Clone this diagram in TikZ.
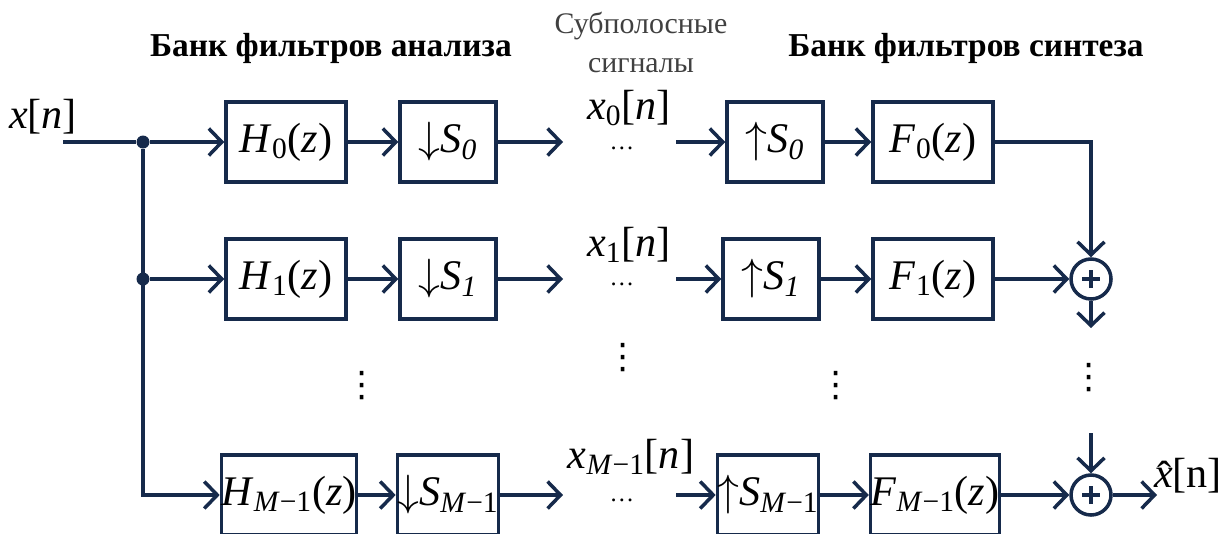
\documentclass[tikz,border=0pt]{standalone}
\usepackage{fontspec}
\setmainfont{Liberation Serif}
\newfontfamily\dejavu{DejaVu Sans}
\usetikzlibrary{arrows.meta}
\definecolor{linecol}{RGB}{22,42,75}
\newcommand{\sbs}[1]{\textsubscript{#1}}
\newcommand{\Mm}{\textit{M}−1}
\newcommand{\xhat}{\textit{x}\llap{\raisebox{-0.06em}{ˆ}\kern0.03em}}

\begin{document}
\begin{tikzpicture}[
    x=0.2mm, y=-0.2mm,
    block/.style={rectangle, draw=linecol, line width=2pt,
                  minimum height=16mm, inner sep=0pt,
                  font=\fontsize{24}{28}\selectfont},
    filt/.style={block, minimum width=24mm},
    rate/.style={block, minimum width=19.2mm},
    sum/.style={circle, draw=linecol, line width=2pt,
                minimum size=8mm, inner sep=0pt,
                path picture={\draw[linecol, line width=2.2pt]
                  ([xshift=-1.8mm]path picture bounding box.center) --
                  ([xshift=1.8mm]path picture bounding box.center)
                  ([yshift=-1.8mm]path picture bounding box.center) --
                  ([yshift=1.8mm]path picture bounding box.center);}},
    sig/.style={font=\fontsize{24}{28}\selectfont, inner sep=0pt},
    hdots/.style={font=\fontsize{14}{16}\selectfont, anchor=base,
                  inner sep=0pt, text height=0.3em, text depth=0pt},
    vdots/.style={font=\dejavu\fontsize{20}{24}\selectfont},
    title/.style={font=\fontsize{19}{22}\selectfont\bfseries, anchor=base},
    note/.style={font=\fontsize{17}{22}\selectfont, text=black!75,
                 align=center, anchor=base},
    wire/.style={draw=linecol, line width=2pt},
    arrow/.style={wire, -{Straight Barb[length=2.6mm, width=5.4mm]}},
    dot/.style={circle, fill=linecol, inner sep=0pt, minimum size=2.6mm}
]
    \useasboundingbox (0,0) rectangle (1223,533);

    \node[title] (ttlA) at (331,56) {Банк фильтров анализа};
    \node[title] (ttlS) at (966,56) {Банк фильтров синтеза};
    \node[note]  (ttlB) at (641,72) {Субполосные\\сигналы};

    \node[sig] (xin) at (43,117) {\textit{x}[\textit{n}]};
    \coordinate (in) at (63,142);
    \node[dot] (j0) at (143,142) {};
    \node[dot] (j1) at (143,279) {};

    \node[filt] (H0) at (286,142) {\textit{H}\sbs{0}(\textit{z})};
    \node[filt] (H1) at (286,279) {\textit{H}\sbs{1}(\textit{z})};
    \node[filt, minimum width=25.6mm] (HM) at (289,495) {\textit{H}\sbs{\Mm}(\textit{z})};

    \node[rate] (D0) at (448,142) {$\downarrow$\textit{S}\sbs{\textit{0}}};
    \node[rate] (D1) at (448,279) {$\downarrow$\textit{S}\sbs{\textit{1}}};
    \node[rate] (DM) at (448,495) {$\downarrow$\textit{S}\sbs{\Mm}};

    \coordinate (d0) at (563,142);
    \coordinate (d1) at (563,279);
    \coordinate (dM) at (563,495);
    \coordinate (u0) at (676,142);
    \coordinate (u1) at (676,279);
    \coordinate (uM) at (676,495);

    \node[sig] (x0) at (629,108) {\textit{x}\sbs{0}[\textit{n}]};
    \node[sig] (x1) at (629,245) {\textit{x}\sbs{1}[\textit{n}]};
    \node[sig] (xM) at (631,457) {\textit{x}\sbs{\Mm}[\textit{n}]};
    \node[hdots] (e0) at (622,149) {…};
    \node[hdots] (e1) at (622,285) {…};
    \node[hdots] (eM) at (622,501) {…};

    \node[rate] (U0) at (775,142) {$\uparrow$\textit{S}\sbs{\textit{0}}};
    \node[rate] (U1) at (771,279) {$\uparrow$\textit{S}\sbs{\textit{1}}};
    \node[rate] (UM) at (768,495) {$\uparrow$\textit{S}\sbs{\Mm}};

    \node[filt] (F0) at (933,142) {\textit{F}\sbs{0}(\textit{z})};
    \node[filt] (F1) at (933,279) {\textit{F}\sbs{1}(\textit{z})};
    \node[filt, minimum width=24.6mm] (FM) at (935,495) {\textit{F}\sbs{\Mm}(\textit{z})};

    \node[sum] (sum1) at (1091,279) {};
    \node[sum] (sum2) at (1091,495) {};
    \coordinate (s1b) at (1091,328);
    \coordinate (s2t) at (1091,433);
    \coordinate (out) at (1157,495);
    \node[sig] (xout) at (1188,476) {\xhat[n]};

    \node[vdots] (v1) at (362,386) {⋮};
    \node[vdots] (v2) at (623,358) {⋮};
    \node[vdots] (v3) at (836,386) {⋮};
    \node[vdots] (v4) at (1089,378) {⋮};

    \draw[wire] (in) -- (j0);
    \draw[arrow] (j0) -- (H0);
    \draw[arrow] (j1) -- (H1);
    \draw[arrow] (j0) |- (HM.west);

    \draw[arrow] (H0) -- (D0);
    \draw[arrow] (H1) -- (D1);
    \draw[arrow] (HM) -- (DM);
    \draw[arrow] (D0) -- (d0);
    \draw[arrow] (D1) -- (d1);
    \draw[arrow] (DM) -- (dM);

    \draw[arrow] (u0) -- (U0);
    \draw[arrow] (u1) -- (U1);
    \draw[arrow] (uM) -- (UM);
    \draw[arrow] (U0) -- (F0);
    \draw[arrow] (U1) -- (F1);
    \draw[arrow] (UM) -- (FM);

    \draw[arrow] (F0.east) -| (sum1.north);
    \draw[arrow] (F1) -- (sum1);
    \draw[arrow] (sum1) -- (s1b);
    \draw[arrow] (s2t) -- (sum2);
    \draw[arrow] (FM) -- (sum2);
    \draw[arrow] (sum2) -- (out);
\end{tikzpicture}
\end{document}
